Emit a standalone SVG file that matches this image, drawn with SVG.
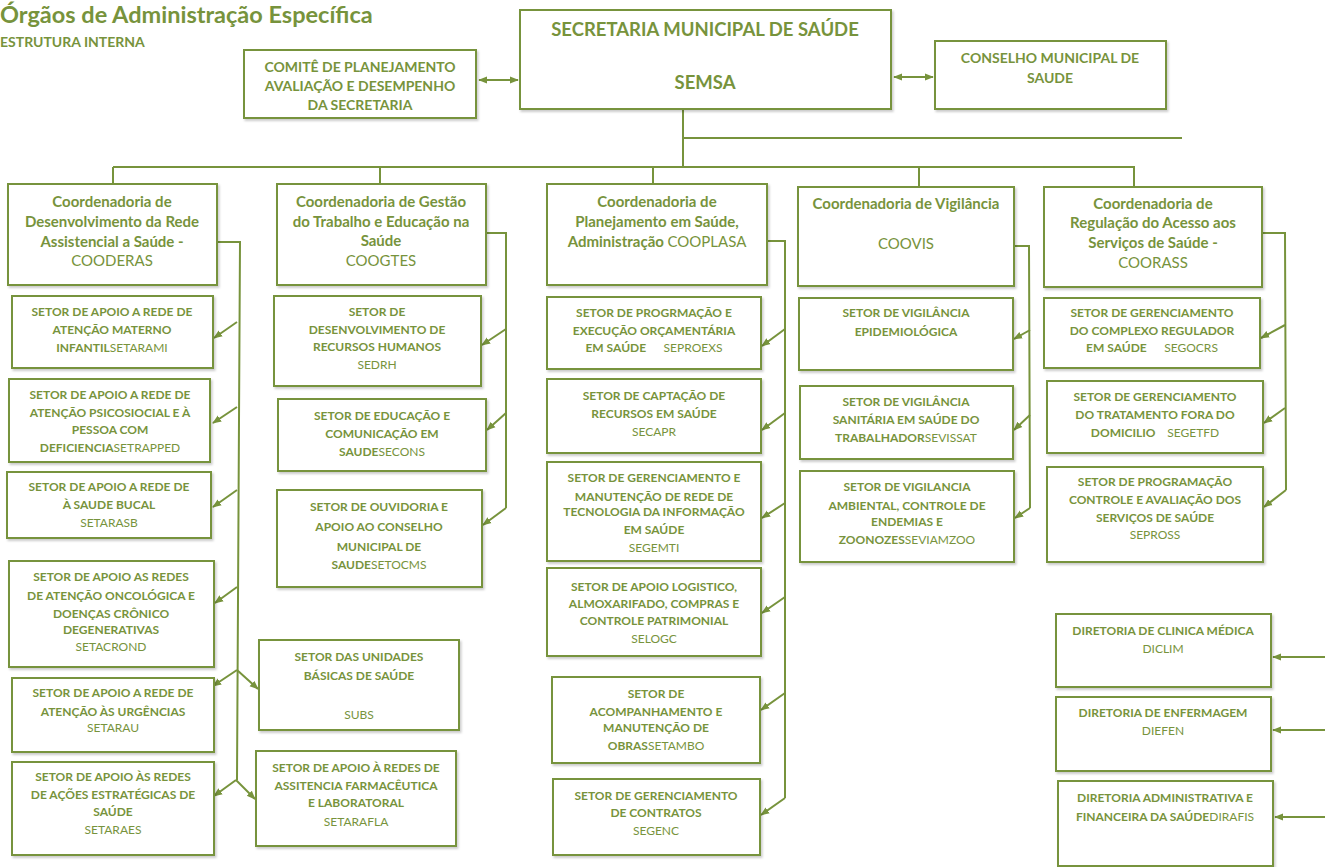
<svg xmlns="http://www.w3.org/2000/svg" width="1328" height="867" viewBox="0 0 1328 867">
<style>
.bx{fill:#fff;stroke:#77933c;stroke-width:2;filter:url(#sh)}
.t{font-family:Lato,"Liberation Sans",sans-serif;fill:#77933c;text-anchor:middle}
.s{font-size:12px;font-weight:bold}
.c{font-size:15px;font-weight:bold}
.n{font-weight:normal}
.ln{fill:none;stroke:#77933c;stroke-width:2}
.ar{fill:none;stroke:#77933c;stroke-width:2;marker-end:url(#ah)}
.da{fill:none;stroke:#77933c;stroke-width:2;marker-end:url(#ah);marker-start:url(#ah)}
</style>
<defs>
<filter id="sh" x="-5%" y="-5%" width="110%" height="115%"><feDropShadow dx="1.5" dy="2" stdDeviation="1" flood-color="#000" flood-opacity="0.2"/></filter>
<marker id="ah" viewBox="0 0 10 10" refX="9" refY="5" markerWidth="9" markerHeight="9" markerUnits="userSpaceOnUse" orient="auto-start-reverse"><path d="M0,1 L10,5 L0,9 z" fill="#77933c"/></marker>
</defs>
<rect width="1328" height="867" fill="#fff"/>
<text x="0" y="23" font-family="Lato,'Liberation Sans',sans-serif" font-size="23.5" font-weight="bold" fill="#77933c">Órgãos de Administração Específica</text>
<text x="0" y="47" font-family="Lato,'Liberation Sans',sans-serif" font-size="14" font-weight="bold" fill="#77933c">ESTRUTURA INTERNA</text>

<g id="connectors">
<path class="da" d="M479,80 L518,80"/>
<path class="da" d="M894,77 L933,77"/>
<path class="ln" d="M683,109 L683,167 M683,138 L1182,138 M113,167 L1135,167 M113,167 L113,183 M380,167 L380,183 M653,167 L653,183 M919,167 L919,187 M1134,167 L1134,187"/>
<path class="ln" d="M217,242 L240,242 L237,780"/>
<path class="ar" d="M237,322 L214,338"/>
<path class="ar" d="M237,407 L213,423"/>
<path class="ar" d="M237,490 L213,507"/>
<path class="ar" d="M237,587 L215,603"/>
<path class="ar" d="M237,670 L213,686"/>
<path class="ar" d="M237,670 L258,689"/>
<path class="ar" d="M236,780 L214,796"/>
<path class="ar" d="M236,780 L255,799"/>
<path class="ln" d="M486,233 L506,233 L506,508"/>
<path class="ar" d="M506,329 L482,345"/>
<path class="ar" d="M506,413 L487,430"/>
<path class="ar" d="M506,508 L483,525"/>
<path class="ln" d="M767,241 L785,241 L785,798"/>
<path class="ar" d="M785,329 L762,346"/>
<path class="ar" d="M785,413 L762,430"/>
<path class="ar" d="M785,503 L762,518"/>
<path class="ar" d="M785,597 L762,613"/>
<path class="ar" d="M785,693 L761,710"/>
<path class="ar" d="M785,798 L761,815"/>
<path class="ln" d="M1014,246 L1029,246 L1030,508"/>
<path class="ar" d="M1030,330 L1014,339"/>
<path class="ar" d="M1030,415 L1014,430"/>
<path class="ar" d="M1030,508 L1015,518"/>
<path class="ln" d="M1262,233 L1285,233 L1286,490"/>
<path class="ar" d="M1285,325 L1261,338"/>
<path class="ar" d="M1285,408 L1264,423"/>
<path class="ar" d="M1286,490 L1264,507"/>
<path class="ar" d="M1325,657 L1273,657"/>
<path class="ar" d="M1325,730 L1273,730"/>
<path class="ar" d="M1325,817 L1275,817"/>
</g>

<g id="semsa"><rect class="bx" x="520" y="10" width="371" height="99"/>
<text class="t" x="705" y="36" font-size="18.5" font-weight="bold">SECRETARIA MUNICIPAL DE SAÚDE</text>
<text class="t" x="705" y="89" font-size="18.5" font-weight="bold">SEMSA</text></g>

<g id="comite"><rect class="bx" x="244" y="50" width="232" height="68"/>
<text class="t" x="360" y="72" font-size="14" font-weight="bold">COMITÊ DE PLANEJAMENTO</text>
<text class="t" x="360" y="91" font-size="14" font-weight="bold">AVALIAÇÃO E DESEMPENHO</text>
<text class="t" x="360" y="110" font-size="14" font-weight="bold">DA SECRETARIA</text></g>

<g id="conselho"><rect class="bx" x="935" y="41" width="231" height="68"/>
<text class="t" x="1050" y="63" font-size="14" font-weight="bold">CONSELHO MUNICIPAL DE</text>
<text class="t" x="1050" y="83" font-size="14" font-weight="bold">SAUDE</text></g>

<g id="cooderas"><rect class="bx" x="8" y="184" width="209" height="101"/>
<text class="t c" x="112" y="207">Coordenadoria de</text>
<text class="t c" x="112" y="227">Desenvolvimento da Rede</text>
<text class="t c" x="112" y="247">Assistencial a Saúde -</text>
<text class="t c n" x="112" y="266">COODERAS</text></g>

<g id="coogtes"><rect class="bx" x="277" y="184" width="209" height="101"/>
<text class="t c" x="381" y="207">Coordenadoria de Gestão</text>
<text class="t c" x="381" y="227">do Trabalho e Educação na</text>
<text class="t c" x="381" y="246">Saúde</text>
<text class="t c n" x="381" y="266">COOGTES</text></g>

<g id="cooplasa"><rect class="bx" x="547" y="184" width="220" height="101"/>
<text class="t c" x="657" y="207">Coordenadoria de</text>
<text class="t c" x="657" y="227">Planejamento em Saúde,</text>
<text class="t c" x="657" y="247">Administração <tspan class="n">COOPLASA</tspan></text></g>

<g id="coovis"><rect class="bx" x="798" y="187" width="216" height="99"/>
<text class="t c" x="906" y="209">Coordenadoria de Vigilância</text>
<text class="t c n" x="906" y="249">COOVIS</text></g>

<g id="coorass"><rect class="bx" x="1044" y="187" width="218" height="100"/>
<text class="t c" x="1153" y="209">Coordenadoria de</text>
<text class="t c" x="1153" y="228">Regulação do Acesso aos</text>
<text class="t c" x="1153" y="248">Serviços de Saúde -</text>
<text class="t c n" x="1153" y="268">COORASS</text></g>

<g id="setarami"><rect class="bx" x="12" y="296" width="201" height="72"/>
<text class="t s" x="112" y="316">SETOR DE APOIO A REDE DE</text>
<text class="t s" x="112" y="334">ATENÇÃO MATERNO</text>
<text class="t s" x="112" y="352">INFANTIL<tspan class="n">SETARAMI</tspan></text></g>

<g id="setrapped"><rect class="bx" x="9" y="379" width="201" height="83"/>
<text class="t s" x="110" y="399">SETOR DE APOIO A REDE DE</text>
<text class="t s" x="110" y="417">ATENÇÃO PSICOSIOCIAL E À</text>
<text class="t s" x="110" y="434">PESSOA COM</text>
<text class="t s" x="110" y="452">DEFICIENCIA<tspan class="n">SETRAPPED</tspan></text></g>

<g id="setarasb"><rect class="bx" x="7" y="472" width="204" height="66"/>
<text class="t s" x="109" y="491">SETOR DE APOIO A REDE DE</text>
<text class="t s" x="109" y="509">À SAUDE BUCAL</text>
<text class="t s n" x="109" y="527">SETARASB</text></g>

<g id="setacrond"><rect class="bx" x="9" y="561" width="205" height="106"/>
<text class="t s" x="111" y="581">SETOR DE APOIO AS REDES</text>
<text class="t s" x="111" y="600">DE ATENÇÃO ONCOLÓGICA E</text>
<text class="t s" x="111" y="618">DOENÇAS CRÔNICO</text>
<text class="t s" x="111" y="634">DEGENERATIVAS</text>
<text class="t s n" x="111" y="651">SETACROND</text></g>

<g id="setarau"><rect class="bx" x="12" y="678" width="202" height="74"/>
<text class="t s" x="113" y="697">SETOR DE APOIO A REDE DE</text>
<text class="t s" x="113" y="716">ATENÇÃO ÀS URGÊNCIAS</text>
<text class="t s n" x="113" y="732">SETARAU</text></g>

<g id="setaraes"><rect class="bx" x="12" y="762" width="202" height="93"/>
<text class="t s" x="113" y="781">SETOR DE APOIO ÀS REDES</text>
<text class="t s" x="113" y="799">DE AÇÕES ESTRATÉGICAS DE</text>
<text class="t s" x="113" y="816">SAÚDE</text>
<text class="t s n" x="113" y="834">SETARAES</text></g>

<g id="subs"><rect class="bx" x="259" y="640" width="200" height="90"/>
<text class="t s" x="359" y="661">SETOR DAS UNIDADES</text>
<text class="t s" x="359" y="680">BÁSICAS DE SAÚDE</text>
<text class="t s n" x="359" y="719">SUBS</text></g>

<g id="setarafla"><rect class="bx" x="256" y="751" width="200" height="95"/>
<text class="t s" x="356" y="772">SETOR DE APOIO À REDES DE</text>
<text class="t s" x="356" y="790">ASSITENCIA FARMACÊUTICA</text>
<text class="t s" x="356" y="807">E LABORATORAL</text>
<text class="t s n" x="356" y="826">SETARAFLA</text></g>

<g id="sedrh"><rect class="bx" x="274" y="296" width="207" height="90"/>
<text class="t s" x="377" y="316">SETOR DE</text>
<text class="t s" x="377" y="334">DESENVOLVIMENTO DE</text>
<text class="t s" x="377" y="351">RECURSOS HUMANOS</text>
<text class="t s n" x="377" y="369">SEDRH</text></g>

<g id="secons"><rect class="bx" x="278" y="399" width="208" height="72"/>
<text class="t s" x="382" y="420">SETOR DE EDUCAÇÃO E</text>
<text class="t s" x="382" y="438">COMUNICAÇÃO EM</text>
<text class="t s" x="382" y="456">SAUDE<tspan class="n">SECONS</tspan></text></g>

<g id="setocms"><rect class="bx" x="277" y="490" width="205" height="97"/>
<text class="t s" x="379" y="511">SETOR DE OUVIDORIA E</text>
<text class="t s" x="379" y="531">APOIO AO CONSELHO</text>
<text class="t s" x="379" y="551">MUNICIPAL DE</text>
<text class="t s" x="379" y="569">SAUDE<tspan class="n">SETOCMS</tspan></text></g>

<g id="seproexs"><rect class="bx" x="547" y="297" width="214" height="72"/>
<text class="t s" x="654" y="317">SETOR DE PROGRMAÇÃO E</text>
<text class="t s" x="654" y="335">EXECUÇÃO ORÇAMENTÁRIA</text>
<text class="t s" x="654" y="352" xml:space="preserve">EM SAÚDE      <tspan class="n">SEPROEXS</tspan></text></g>

<g id="secapr"><rect class="bx" x="547" y="379" width="214" height="74"/>
<text class="t s" x="654" y="400">SETOR DE CAPTAÇÃO DE</text>
<text class="t s" x="654" y="418">RECURSOS EM SAÚDE</text>
<text class="t s n" x="654" y="436">SECAPR</text></g>

<g id="segemti"><rect class="bx" x="547" y="462" width="214" height="99"/>
<text class="t s" x="654" y="482">SETOR DE GERENCIAMENTO E</text>
<text class="t s" x="654" y="501">MANUTENÇÃO DE REDE DE</text>
<text class="t s" x="654" y="516">TECNOLOGIA DA INFORMAÇÃO</text>
<text class="t s" x="654" y="534">EM SAÚDE</text>
<text class="t s n" x="654" y="552">SEGEMTI</text></g>

<g id="selogc"><rect class="bx" x="547" y="568" width="214" height="88"/>
<text class="t s" x="654" y="591">SETOR DE APOIO LOGISTICO,</text>
<text class="t s" x="654" y="608">ALMOXARIFADO, COMPRAS E</text>
<text class="t s" x="654" y="625">CONTROLE PATRIMONIAL</text>
<text class="t s n" x="654" y="643">SELOGC</text></g>

<g id="setambo"><rect class="bx" x="552" y="677" width="208" height="86"/>
<text class="t s" x="656" y="698">SETOR DE</text>
<text class="t s" x="656" y="716">ACOMPANHAMENTO E</text>
<text class="t s" x="656" y="732">MANUTENÇÃO DE</text>
<text class="t s" x="656" y="750">OBRAS<tspan class="n">SETAMBO</tspan></text></g>

<g id="segenc"><rect class="bx" x="553" y="779" width="207" height="76"/>
<text class="t s" x="656" y="800">SETOR DE GERENCIAMENTO</text>
<text class="t s" x="656" y="817">DE CONTRATOS</text>
<text class="t s n" x="656" y="835">SEGENC</text></g>

<g id="epidemio"><rect class="bx" x="799" y="298" width="214" height="72"/>
<text class="t s" x="906" y="317">SETOR DE VIGILÂNCIA</text>
<text class="t s" x="906" y="336">EPIDEMIOLÓGICA</text></g>

<g id="sevissat"><rect class="bx" x="800" y="386" width="213" height="73"/>
<text class="t s" x="906" y="406">SETOR DE VIGILÂNCIA</text>
<text class="t s" x="906" y="424">SANITÁRIA EM SAÚDE DO</text>
<text class="t s" x="906" y="442">TRABALHADOR<tspan class="n">SEVISSAT</tspan></text></g>

<g id="seviamzoo"><rect class="bx" x="800" y="471" width="214" height="91"/>
<text class="t s" x="907" y="491">SETOR DE VIGILANCIA</text>
<text class="t s" x="907" y="510">AMBIENTAL, CONTROLE DE</text>
<text class="t s" x="907" y="526">ENDEMIAS E</text>
<text class="t s" x="907" y="544">ZOONOZES<tspan class="n">SEVIAMZOO</tspan></text></g>

<g id="segocrs"><rect class="bx" x="1044" y="298" width="216" height="70"/>
<text class="t s" x="1152" y="317">SETOR DE GERENCIAMENTO</text>
<text class="t s" x="1152" y="335">DO COMPLEXO REGULADOR</text>
<text class="t s" x="1152" y="352" xml:space="preserve">EM SAÚDE      <tspan class="n">SEGOCRS</tspan></text></g>

<g id="segetfd"><rect class="bx" x="1047" y="381" width="216" height="72"/>
<text class="t s" x="1155" y="401">SETOR DE GERENCIAMENTO</text>
<text class="t s" x="1155" y="419">DO TRATAMENTO FORA DO</text>
<text class="t s" x="1155" y="437" xml:space="preserve">DOMICILIO    <tspan class="n">SEGETFD</tspan></text></g>

<g id="sepross"><rect class="bx" x="1047" y="467" width="216" height="95"/>
<text class="t s" x="1155" y="486">SETOR DE PROGRAMAÇÃO</text>
<text class="t s" x="1155" y="504">CONTROLE E AVALIAÇÃO DOS</text>
<text class="t s" x="1155" y="522">SERVIÇOS DE SAÚDE</text>
<text class="t s n" x="1155" y="539">SEPROSS</text></g>

<g id="diclim"><rect class="bx" x="1056" y="614" width="215" height="73"/>
<text class="t s" x="1163" y="635">DIRETORIA DE CLINICA MÉDICA</text>
<text class="t s n" x="1163" y="653">DICLIM</text></g>

<g id="diefen"><rect class="bx" x="1056" y="697" width="215" height="74"/>
<text class="t s" x="1163" y="717">DIRETORIA DE ENFERMAGEM</text>
<text class="t s n" x="1163" y="735">DIEFEN</text></g>

<g id="dirafis"><rect class="bx" x="1058" y="781" width="215" height="85"/>
<text class="t s" x="1165" y="802">DIRETORIA ADMINISTRATIVA E</text>
<text class="t s" x="1165" y="821">FINANCEIRA DA SAÚDE<tspan class="n">DIRAFIS</tspan></text></g>
</svg>
